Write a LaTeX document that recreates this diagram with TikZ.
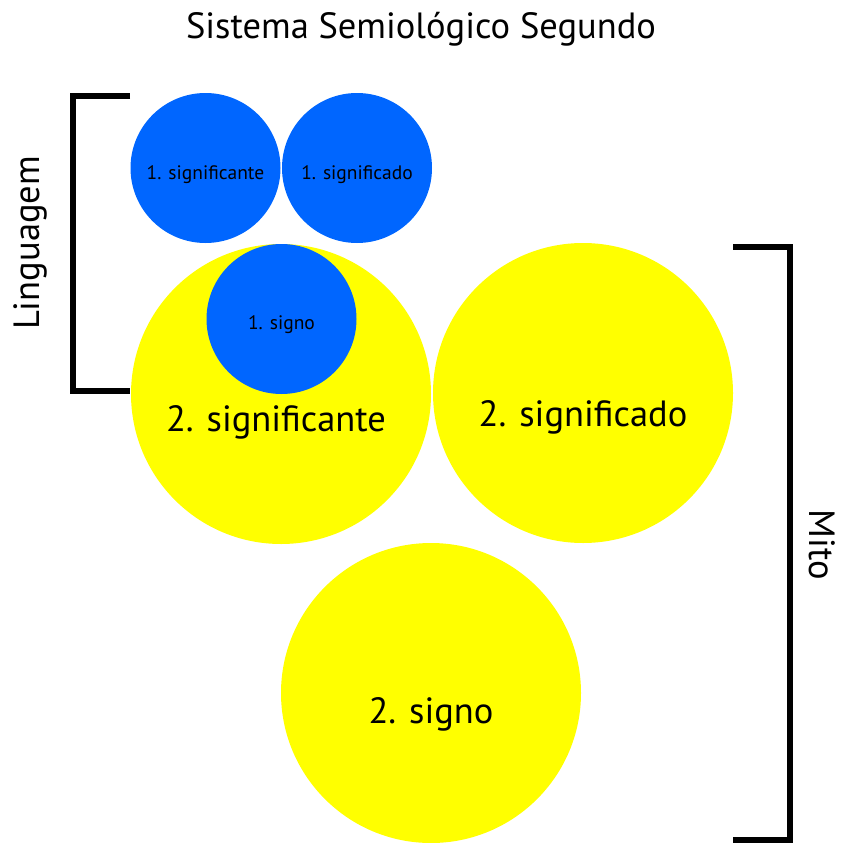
\documentclass[tikz,border=0pt]{standalone}
\usepackage{fontspec}
\setmainfont{PT Sans}
\usetikzlibrary{positioning}

\definecolor{azul}{RGB}{0,102,255}
\definecolor{amarelo}{RGB}{255,255,0}
\newcommand\dpeq{150pt}
\newcommand\dgra{300pt}
\tikzset{
  pequeno/.style={circle,fill=azul,minimum size=\dpeq,inner sep=0pt},
  grande/.style={circle,fill=amarelo,minimum size=\dgra,inner sep=0pt},
  txtp/.style={font=\fontsize{19.5}{23}\selectfont},
  txtg/.style={font=\fontsize{36.5}{43}\selectfont},
  chave/.style={line width=6pt},
}

\begin{document}
\begin{tikzpicture}[x=1pt,y=-1pt]
  \useasboundingbox (0,0) rectangle (842,843);
  \node[txtg] (titulo) at (421,29) {Sistema Semiológico Segundo};
  % segundo sistema (mito)
  \node[grande] (sig2a) at (281,394) {};
  \node[grande] (sig2b) at (583,393) {};
  \node[grande] (sig2c) at (431,693) {};
  \node[txtg] (t2a) at ([xshift=-5pt,yshift=-28pt]sig2a.center) {2. significante};
  \node[txtg] (t2b) at ([yshift=-24pt]sig2b.center) {2. significado};
  \node[txtg] (t2c) at ([yshift=-21pt]sig2c.center) {2. signo};
  % primeiro sistema (linguagem)
  \node[pequeno] (sig1a) at (205.5,168) {};
  \node[pequeno] (sig1b) at (357,168) {};
  \node[pequeno] (sig1c) at (281.5,319) {};
  \node[txtp] (t1a) at ([yshift=-7pt]sig1a.center) {1. significante};
  \node[txtp] (t1b) at ([yshift=-7pt]sig1b.center) {1. significado};
  \node[txtp] (t1c) at ([yshift=-6pt]sig1c.center) {1. signo};
  % chaves
  \coordinate (lt) at (130,96);
  \coordinate (lb) at (130,390.5);
  \draw[chave] (lt) -- ++(-57,0) |- (lb);
  \coordinate (mt) at (733,247);
  \coordinate (mb) at (733,840);
  \draw[chave] (mt) -- ++(56.5,0) |- (mb);
  \node[txtg,rotate=90] (ling) at (30,243) {Linguagem};
  \node[txtg,rotate=-90] (mito) at (822,545) {Mito};
\end{tikzpicture}
\end{document}
